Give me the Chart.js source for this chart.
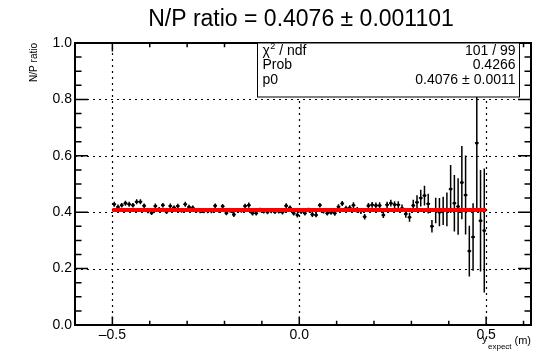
<!DOCTYPE html>
<html>
<head>
<meta charset="utf-8">
<script src="https://cdn.jsdelivr.net/npm/chart.js@4/dist/chart.umd.min.js"></script>
<style>
  html, body { margin: 0; padding: 0; background: #fff; }
  #wrap { width: 546px; height: 354px; }
</style>
</head>
<body>
<div id="wrap"><canvas id="c" width="546" height="354"></canvas></div>
<script>
// Bin centres of y_expect (m), 100 bins of 0.01 between -0.5 and 0.5
const binCenters = [
  -0.495, -0.485, -0.475, -0.465, -0.455, -0.445, -0.435, -0.425, -0.415, -0.405,
  -0.395, -0.385, -0.375, -0.365, -0.355, -0.345, -0.335, -0.325, -0.315, -0.305,
  -0.295, -0.285, -0.275, -0.265, -0.255, -0.245, -0.235, -0.225, -0.215, -0.205,
  -0.195, -0.185, -0.175, -0.165, -0.155, -0.145, -0.135, -0.125, -0.115, -0.105,
  -0.095, -0.085, -0.075, -0.065, -0.055, -0.045, -0.035, -0.025, -0.015, -0.005,
   0.005,  0.015,  0.025,  0.035,  0.045,  0.055,  0.065,  0.075,  0.085,  0.095,
   0.105,  0.115,  0.125,  0.135,  0.145,  0.155,  0.165,  0.175,  0.185,  0.195,
   0.205,  0.215,  0.225,  0.235,  0.245,  0.255,  0.265,  0.275,  0.285,  0.295,
   0.305,  0.315,  0.325,  0.335,  0.345,  0.355,  0.365,  0.375,  0.385,  0.395,
   0.405,  0.415,  0.425,  0.435,  0.445,  0.455,  0.465,  0.475,  0.485,  0.495
];

// N/P ratio per bin
const ratio = [
  0.428, 0.418, 0.425, 0.432, 0.428, 0.425, 0.437, 0.437, 0.423, 0.404,
  0.398, 0.422, 0.410, 0.425, 0.402, 0.422, 0.416, 0.422, 0.406, 0.428,
  0.418, 0.416, 0.406, 0.404, 0.404, 0.404, 0.404, 0.423, 0.406, 0.421,
  0.397, 0.406, 0.392, 0.406, 0.406, 0.422, 0.425, 0.396, 0.396, 0.408,
  0.403, 0.401, 0.404, 0.402, 0.403, 0.400, 0.423, 0.416, 0.396, 0.390,
  0.402, 0.396, 0.408, 0.392, 0.390, 0.425, 0.404, 0.396, 0.399, 0.396,
  0.419, 0.431, 0.414, 0.416, 0.425, 0.408, 0.404, 0.384, 0.423, 0.426,
  0.424, 0.424, 0.390, 0.426, 0.432, 0.427, 0.426, 0.414, 0.394, 0.382,
  0.424, 0.435, 0.450, 0.459, 0.430, 0.350, 0.406, 0.400, 0.405, 0.410,
  0.482, 0.432, 0.420, 0.505, 0.461, 0.262, 0.312, 0.645, 0.370, 0.335
];

// Statistical error on the ratio per bin
const ratioErr = [
  0.009, 0.009, 0.008, 0.009, 0.009, 0.008, 0.009, 0.009, 0.008, 0.008,
  0.008, 0.009, 0.008, 0.008, 0.008, 0.009, 0.008, 0.008, 0.008, 0.009,
  0.008, 0.008, 0.008, 0.008, 0.008, 0.008, 0.008, 0.008, 0.008, 0.008,
  0.008, 0.008, 0.009, 0.008, 0.008, 0.008, 0.009, 0.008, 0.008, 0.008,
  0.008, 0.008, 0.008, 0.008, 0.008, 0.008, 0.009, 0.008, 0.008, 0.009,
  0.008, 0.008, 0.008, 0.009, 0.008, 0.008, 0.009, 0.008, 0.008, 0.009,
  0.009, 0.009, 0.009, 0.009, 0.010, 0.010, 0.010, 0.010, 0.010, 0.010,
  0.010, 0.011, 0.011, 0.011, 0.012, 0.012, 0.013, 0.013, 0.014, 0.016,
  0.020, 0.025, 0.030, 0.035, 0.035, 0.022, 0.045, 0.050, 0.050, 0.060,
  0.085, 0.100, 0.100, 0.130, 0.140, 0.090, 0.120, 0.230, 0.180, 0.220
];
const binHalfWidth = 0.005;

// Constant (pol0) fit result
const fitValue = 0.4076;
const fitRange = [-0.5, 0.5];

// Axes
const xRange = [-0.6, 0.62];
const yRange = [0, 1];
const xTicks = [-0.5, 0, 0.5];
const xTickLabels = ['\u20130.5', '0.0', '0.5'];
const xMinorTicks = [-0.6, -0.4, -0.3, -0.2, -0.1, 0.1, 0.2, 0.3, 0.4, 0.6];
const yTicks = [0, 0.2, 0.4, 0.6, 0.8, 1.0];
const yTickLabels = ['0.0', '0.2', '0.4', '0.6', '0.8', '1.0'];
const yMinorTicks = [0.05, 0.1, 0.15, 0.25, 0.3, 0.35, 0.45, 0.5, 0.55, 0.65, 0.7, 0.75, 0.85, 0.9, 0.95];
const yGridLines = [0.2, 0.4, 0.6, 0.8];

// Texts
const titleText = 'N/P ratio = 0.4076 \u00B1 0.001101';
const yTitle = 'N/P ratio';
const statLabels = ['\u03C7', 'Prob', 'p0'];
const statValues = ['101 / 99', '0.4266', ['0.4076', '0.0011']];

const FONT = '"Liberation Sans", Arial, Helvetica, sans-serif';

const rootStyle = {
  id: 'rootStyle',
  beforeDatasetsDraw(chart) {
    const { ctx, chartArea: a, scales: { x, y } } = chart;
    ctx.save();
    // dotted grid at major ticks
    ctx.strokeStyle = '#000';
    ctx.lineWidth = 1.2;
    ctx.setLineDash([2, 4]);
    ctx.beginPath();
    xTicks.forEach(v => {
      const px = Math.round(x.getPixelForValue(v)) + 0.5;
      ctx.moveTo(px, a.bottom);
      ctx.lineTo(px, a.top);
    });
    yGridLines.forEach(v => {
      const py = Math.round(y.getPixelForValue(v)) + 0.5;
      ctx.moveTo(a.left, py);
      ctx.lineTo(a.right, py);
    });
    ctx.stroke();
    ctx.setLineDash([]);

    // error bars
    ctx.beginPath();
    ctx.rect(a.left, a.top, a.right - a.left, a.bottom - a.top);
    ctx.clip();
    ctx.lineWidth = 1.5;
    ctx.beginPath();
    binCenters.forEach((c, i) => {
      const px = x.getPixelForValue(c);
      const py = y.getPixelForValue(ratio[i]);
      ctx.moveTo(px, y.getPixelForValue(ratio[i] - ratioErr[i]));
      ctx.lineTo(px, y.getPixelForValue(ratio[i] + ratioErr[i]));
      ctx.moveTo(x.getPixelForValue(c - binHalfWidth), py);
      ctx.lineTo(x.getPixelForValue(c + binHalfWidth), py);
    });
    ctx.stroke();
    ctx.restore();
  },
  afterDatasetsDraw(chart) {
    const { ctx, chartArea: a, scales: { x, y } } = chart;
    ctx.save();
    ctx.strokeStyle = '#000';
    ctx.fillStyle = '#000';

    // tick marks on all four sides, pointing inward
    ctx.lineWidth = 1.5;
    ctx.beginPath();
    const xTick = (v, len) => {
      const px = x.getPixelForValue(v);
      ctx.moveTo(px, a.bottom); ctx.lineTo(px, a.bottom - len);
      ctx.moveTo(px, a.top); ctx.lineTo(px, a.top + len);
    };
    const yTick = (v, len) => {
      const py = y.getPixelForValue(v);
      ctx.moveTo(a.left, py); ctx.lineTo(a.left + len, py);
      ctx.moveTo(a.right, py); ctx.lineTo(a.right - len, py);
    };
    xTicks.forEach(v => xTick(v, 8.5));
    xMinorTicks.forEach(v => xTick(v, 4.3));
    yTicks.forEach(v => yTick(v, 13));
    yMinorTicks.forEach(v => yTick(v, 6.5));
    ctx.stroke();

    // frame
    ctx.lineWidth = 2;
    ctx.strokeRect(a.left, a.top, a.right - a.left, a.bottom - a.top);

    // fit statistics box
    const bx = 257.5, by = a.top, bw = 262, bh = 54;
    ctx.fillStyle = '#fff';
    ctx.fillRect(bx, by, bw, bh);
    ctx.lineWidth = 1;
    ctx.strokeRect(bx, by, bw, bh);
    ctx.fillStyle = '#000';
    ctx.font = '14px ' + FONT;
    ctx.textBaseline = 'alphabetic';
    const rowY = [by + 11.5, by + 26, by + 40.5];
    const lx = bx + 5, rx = bx + bw - 4;
    ctx.textAlign = 'left';
    // chi^2 / ndf
    ctx.fillText(statLabels[0], lx, rowY[0]);
    const chiW = ctx.measureText(statLabels[0]).width;
    ctx.font = '9px ' + FONT;
    ctx.fillText('2', lx + chiW + 0.5, rowY[0] - 5.5);
    ctx.font = '14px ' + FONT;
    ctx.fillText(' / ndf', lx + chiW + 5.5, rowY[0]);
    ctx.fillText(statLabels[1], lx, rowY[1]);
    ctx.fillText(statLabels[2], lx, rowY[2]);
    ctx.textAlign = 'right';
    ctx.fillText(statValues[0], rx, rowY[0]);
    ctx.fillText(statValues[1], rx, rowY[1]);
    const errW = ctx.measureText(statValues[2][1]).width;
    ctx.fillText(statValues[2][1], rx, rowY[2]);
    ctx.fillText('\u00B1', rx - errW - 4, rowY[2]);
    const pmW = ctx.measureText('\u00B1').width;
    ctx.fillText(statValues[2][0], rx - errW - 4 - pmW - 4, rowY[2]);

    // title
    ctx.font = '23px ' + FONT;
    ctx.textAlign = 'center';
    ctx.fillText(titleText, 301, 26);

    // y axis title
    ctx.save();
    ctx.font = '10px ' + FONT;
    ctx.translate(37, a.top);
    ctx.rotate(-Math.PI / 2);
    ctx.textAlign = 'right';
    ctx.fillText(yTitle, 0, 0);
    ctx.restore();

    // x axis title: y_expect (m)
    ctx.textAlign = 'left';
    ctx.font = '11px ' + FONT;
    ctx.fillText('y', 482, 341.5);
    ctx.font = '8px ' + FONT;
    ctx.fillText('expect', 488, 349);
    ctx.font = '11px ' + FONT;
    ctx.textAlign = 'right';
    ctx.fillText('(m)', a.right, 344);
    ctx.restore();
  }
};

new Chart(document.getElementById('c'), {
  type: 'scatter',
  data: {
    datasets: [
      {
        label: 'fit',
        type: 'line',
        data: fitRange.map(v => ({ x: v, y: fitValue })),
        borderColor: '#ff0000',
        borderWidth: 4,
        pointRadius: 0,
        showLine: true,
        order: 0
      },
      {
        label: 'N/P',
        data: binCenters.map((c, i) => ({ x: c, y: ratio[i] })),
        backgroundColor: '#000',
        borderWidth: 0,
        pointRadius: 1.6,
        order: 1
      }
    ]
  },
  options: {
    responsive: false,
    devicePixelRatio: 1,
    animation: false,
    events: [],
    layout: { padding: { top: 43, right: 15, left: 0, bottom: 0 } },
    plugins: { legend: { display: false }, tooltip: { enabled: false }, title: { display: false } },
    scales: {
      x: {
        type: 'linear',
        min: xRange[0], max: xRange[1],
        grid: { display: false, drawTicks: false },
        border: { display: false },
        afterBuildTicks: s => { s.ticks = xTicks.map(v => ({ value: v })); },
        afterFit: s => { s.height = 29; },
        ticks: {
          autoSkip: false, maxRotation: 0, padding: 2, color: '#000',
          font: { family: FONT, size: 14 },
          callback: v => xTickLabels[xTicks.indexOf(v)] ?? ''
        }
      },
      y: {
        type: 'linear',
        min: yRange[0], max: yRange[1],
        grid: { display: false, drawTicks: false },
        border: { display: false },
        afterBuildTicks: s => { s.ticks = yTicks.map(v => ({ value: v })); },
        afterFit: s => { s.width = 75; },
        ticks: {
          autoSkip: false, padding: 3, color: '#000',
          font: { family: FONT, size: 14 },
          callback: v => yTickLabels[yTicks.indexOf(v)] ?? ''
        }
      }
    }
  },
  plugins: [rootStyle]
});
</script>
</body>
</html>
